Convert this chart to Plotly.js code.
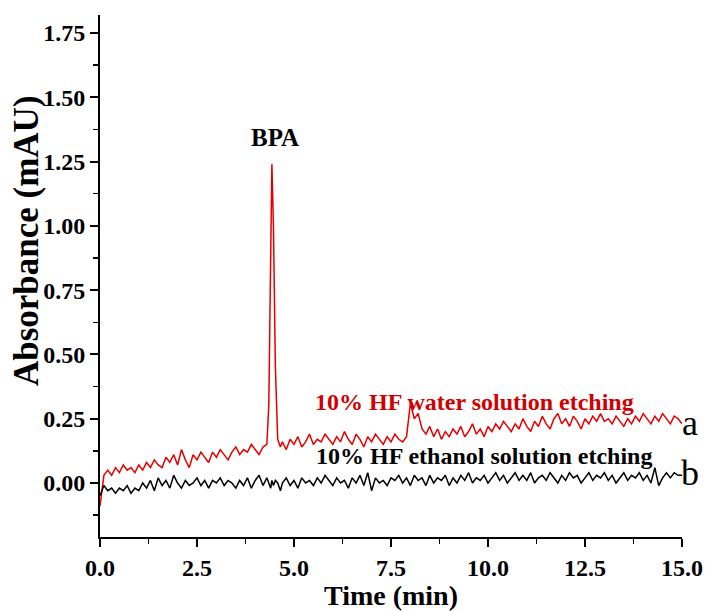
<!DOCTYPE html>
<html>
<head>
<meta charset="utf-8">
<script src="https://cdn.plot.ly/plotly-3.0.1.min.js"></script>
<style>html,body{margin:0;padding:0;background:#fff;}#chart{width:705px;height:611px;}</style>
</head>
<body>
<div id="chart"></div>
<script>
// Time (min)
var timeMin = [
0.0,0.1,0.2,0.3,0.4,0.5,0.6,0.7,0.8,0.9,
1.0,1.1,1.2,1.3,1.4,1.5,1.6,1.7,1.8,1.9,
2.0,2.1,2.2,2.3,2.4,2.5,2.6,2.7,2.8,2.9,
3.0,3.1,3.2,3.3,3.4,3.5,3.6,3.7,3.8,3.9,
4.0,4.1,4.2,4.3,4.35,4.40,4.43,4.47,4.52,4.58,4.65,
4.7,4.8,4.9,
5.0,5.1,5.2,5.3,5.4,5.5,5.6,5.7,5.8,5.9,
6.0,6.1,6.2,6.3,6.4,6.5,6.6,6.7,6.8,6.9,
7.0,7.1,7.2,7.3,7.4,7.5,7.6,7.7,7.8,7.9,
8.0,8.1,8.2,8.3,8.4,8.5,8.6,8.7,8.8,8.9,
9.0,9.1,9.2,9.3,9.4,9.5,9.6,9.7,9.8,9.9,
10.0,10.1,10.2,10.3,10.4,10.5,10.6,10.7,10.8,10.9,
11.0,11.1,11.2,11.3,11.4,11.5,11.6,11.7,11.8,11.9,
12.0,12.1,12.2,12.3,12.4,12.5,12.6,12.7,12.8,12.9,
13.0,13.1,13.2,13.3,13.4,13.5,13.6,13.7,13.8,13.9,
14.0,14.1,14.2,14.3,14.4,14.5,14.6,14.7,14.8,14.9,
15.0];

// a: 10% HF water solution etching
var waterEtching = [
-0.09,0.03,0.05,0.03,0.06,0.04,0.07,0.05,0.06,0.04,
0.07,0.05,0.08,0.06,0.09,0.07,0.06,0.10,0.08,0.11,
0.07,0.13,0.09,0.06,0.11,0.09,0.12,0.10,0.08,0.12,
0.10,0.13,0.11,0.09,0.12,0.14,0.11,0.13,0.12,0.15,
0.13,0.11,0.14,0.15,0.30,0.95,1.24,1.00,0.45,0.17,0.14,
0.16,0.13,0.17,
0.15,0.18,0.14,0.16,0.19,0.15,0.17,0.16,0.19,0.17,
0.15,0.18,0.16,0.20,0.17,0.15,0.19,0.17,0.14,0.18,
0.16,0.19,0.17,0.15,0.18,0.16,0.19,0.17,0.16,0.18,
0.31,0.25,0.27,0.21,0.19,0.22,0.18,0.21,0.17,0.20,
0.18,0.21,0.19,0.22,0.18,0.20,0.23,0.19,0.21,0.18,
0.22,0.20,0.23,0.21,0.24,0.22,0.20,0.23,0.21,0.25,
0.22,0.20,0.24,0.22,0.26,0.23,0.21,0.25,0.27,0.23,
0.25,0.22,0.26,0.24,0.21,0.25,0.23,0.26,0.24,0.27,
0.24,0.25,0.23,0.26,0.24,0.22,0.25,0.23,0.26,0.24,
0.27,0.25,0.23,0.26,0.24,0.27,0.25,0.23,0.26,0.25,
0.23];

// b: 10% HF ethanol solution etching
var ethanolEtching = [
-0.05,-0.01,-0.03,-0.02,-0.04,-0.02,-0.03,-0.01,-0.04,-0.02,
-0.03,0.00,-0.02,0.01,-0.03,0.02,-0.01,0.01,-0.02,0.03,
0.00,-0.02,0.01,-0.01,0.00,0.02,-0.01,0.01,-0.02,0.01,
0.00,0.02,-0.01,0.01,0.00,-0.02,0.01,-0.01,0.02,-0.02,
0.01,0.03,-0.01,0.02,0.00,-0.02,0.01,-0.01,0.01,0.00,-0.03,
0.00,0.02,-0.01,
0.01,-0.02,0.02,0.00,0.01,-0.01,0.02,0.00,0.03,0.01,
-0.01,0.02,0.00,0.01,-0.02,0.02,0.00,0.03,-0.01,0.04,
-0.03,0.02,0.00,0.01,-0.01,0.02,0.01,0.03,0.00,0.02,
-0.01,0.03,0.01,0.02,-0.01,0.03,0.00,0.02,0.01,0.03,
-0.01,0.02,0.00,0.03,0.01,0.04,0.00,0.02,0.01,0.03,
0.00,0.02,0.04,0.01,0.03,0.00,0.02,0.04,0.01,0.03,
0.01,0.04,0.00,0.02,0.03,0.01,0.04,0.02,0.00,0.03,
0.01,0.04,0.02,0.03,0.00,0.02,0.04,0.01,0.03,0.02,
0.04,0.01,0.03,0.00,0.02,0.04,0.01,0.03,0.02,0.04,
0.01,0.03,0.00,0.06,-0.01,0.02,0.04,0.02,0.04,0.03,
0.03];

var yTickVals = [0, 0.25, 0.5, 0.75, 1.0, 1.25, 1.5, 1.75];
var yTickText = ["0.00","0.25","0.50","0.75","1.00","1.25","1.50","1.75"];
var xTickVals = [0, 2.5, 5, 7.5, 10, 12.5, 15];
var xTickText = ["0.0","2.5","5.0","7.5","10.0","12.5","15.0"];

var serif = "Liberation Serif, Times New Roman, serif";

var traces = [
  {x: timeMin, y: waterEtching, type: "scatter", mode: "lines",
   line: {color: "#e50000", width: 1.5}, name: "a", hoverinfo: "x+y"},
  {x: timeMin, y: ethanolEtching, type: "scatter", mode: "lines",
   line: {color: "#000000", width: 1.5}, name: "b", hoverinfo: "x+y"}
];

var layout = {
  width: 705, height: 611,
  margin: {l: 100, r: 23, t: 15, b: 74},
  paper_bgcolor: "#ffffff", plot_bgcolor: "#ffffff",
  showlegend: false,
  font: {family: serif, color: "#000"},
  xaxis: {
    range: [0, 15], tickvals: xTickVals, ticktext: xTickText,
    showline: true, linecolor: "#000", linewidth: 2, mirror: false,
    ticks: "outside", ticklen: 8, tickwidth: 2, tickcolor: "#000",
    minor: {tick0: 0, dtick: 1.25, ticks: "outside", ticklen: 5, tickwidth: 1.5, tickcolor: "#000", showgrid: false},
    showgrid: false, zeroline: false,
    tickfont: {family: serif, size: 24, color: "#000", weight: "bold"},
    title: {text: "<b>Time (min)</b>", font: {family: serif, size: 28, color: "#000"}, standoff: 2}
  },
  yaxis: {
    range: [-0.21, 1.82], tickvals: yTickVals, ticktext: yTickText,
    showline: true, linecolor: "#000", linewidth: 2, mirror: false,
    ticks: "outside", ticklen: 8, tickwidth: 2, tickcolor: "#000",
    minor: {tick0: 0, dtick: 0.125, ticks: "outside", ticklen: 5, tickwidth: 1.5, tickcolor: "#000", showgrid: false},
    showgrid: false, zeroline: false,
    tickfont: {family: serif, size: 24, color: "#000", weight: "bold"}
  },
  annotations: [
    {text: "<b>Absorbance (mAU)</b>", xref: "paper", yref: "paper", x: -0.127, y: 0.567,
     xanchor: "center", yanchor: "middle", textangle: -90, showarrow: false,
     font: {family: serif, size: 35, color: "#000"}},
    {text: "<b>BPA</b>", xref: "x", yref: "y", x: 4.52, y: 1.345, showarrow: false,
     xanchor: "center", yanchor: "middle", font: {family: serif, size: 25, color: "#000"}},
    {text: "<b>10% HF water solution etching</b>", xref: "x", yref: "y", x: 9.65, y: 0.315, showarrow: false,
     xanchor: "center", yanchor: "middle", font: {family: serif, size: 24, color: "#d00000"}},
    {text: "<b>10% HF ethanol solution etching</b>", xref: "x", yref: "y", x: 9.9, y: 0.105, showarrow: false,
     xanchor: "center", yanchor: "middle", font: {family: serif, size: 24, color: "#000"}},
    {text: "a", xref: "paper", yref: "y", x: 1.013, y: 0.235, showarrow: false,
     xanchor: "center", yanchor: "middle", font: {family: serif, size: 36, color: "#000"}},
    {text: "b", xref: "paper", yref: "y", x: 1.013, y: 0.04, showarrow: false,
     xanchor: "center", yanchor: "middle", font: {family: serif, size: 36, color: "#000"}}
  ]
};

Plotly.newPlot("chart", traces, layout, {displayModeBar: false, staticPlot: true});
</script>
</body>
</html>
